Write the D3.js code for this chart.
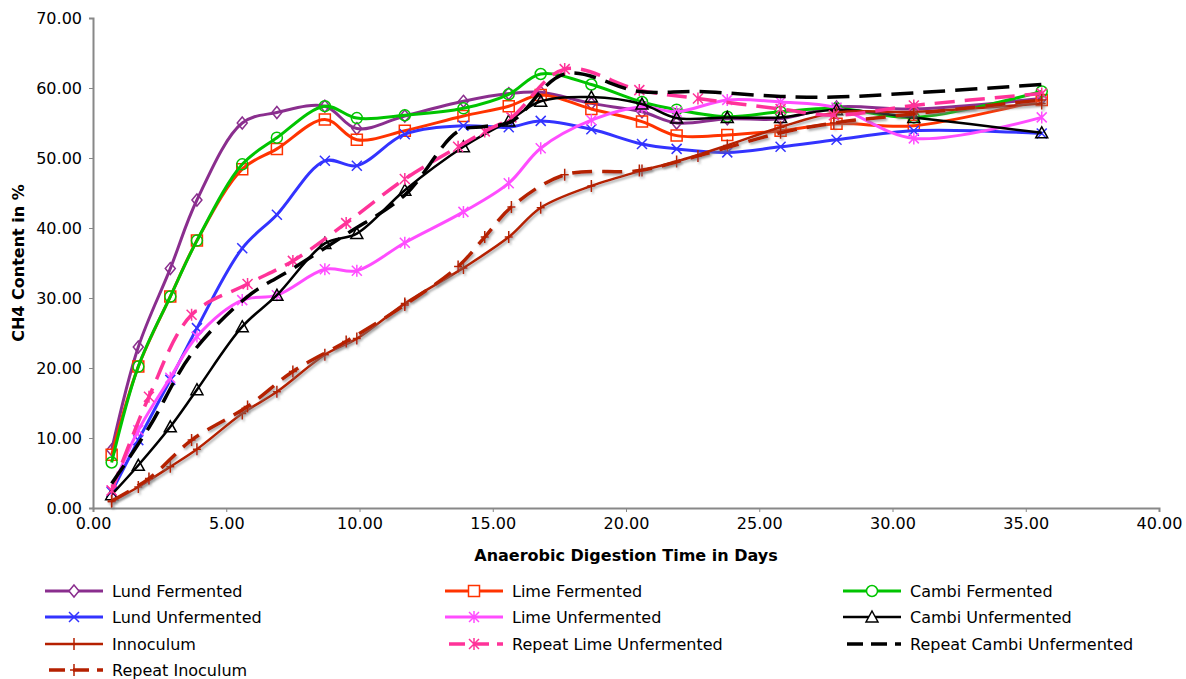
<!DOCTYPE html>
<html>
<head>
<meta charset="utf-8">
<script src="https://cdn.jsdelivr.net/npm/d3@7"></script>
<style>
  body { margin: 0; background: #fff; }
  text { font-family: "DejaVu Sans", Verdana, sans-serif; }
</style>
</head>
<body>
<div id="chart"></div>
<script>
// sampling days (shared by the first runs) and the repeat runs
const days = [0.7, 1.7, 2.9, 3.9, 5.6, 6.9, 8.7, 9.9, 11.7, 13.9, 15.6, 16.8, 18.7, 20.6, 21.9, 23.8, 25.8, 27.9, 30.8, 35.6];
const repeatDays = [0.7, 2.1, 3.7, 5.8, 7.5, 9.5, 11.7, 13.7, 14.7, 15.7, 17.7, 20.5, 22.7, 25.8, 27.8, 30.8, 35.6];

const lundFermented    = [8.3, 23.0, 34.2, 44.0, 55.0, 56.5, 57.4, 54.2, 56.0, 58.1, 59.2, 59.4, 57.8, 56.6, 55.0, 55.6, 55.6, 57.3, 57.0, 58.5];
const limeFermented    = [7.6, 20.2, 30.2, 38.2, 48.4, 51.3, 55.5, 52.6, 53.9, 56.0, 57.4, 59.0, 57.0, 55.2, 53.2, 53.3, 53.9, 54.9, 54.6, 58.3];
const cambiFermented   = [6.5, 20.2, 30.2, 38.2, 49.1, 52.9, 57.4, 55.7, 56.1, 57.1, 59.1, 62.0, 60.5, 58.0, 56.9, 55.9, 56.6, 57.1, 55.8, 59.5];
const lundUnfermented  = [2.3, 9.7, 18.3, 25.7, 37.1, 41.9, 49.6, 48.9, 53.4, 54.6, 54.4, 55.3, 54.1, 52.0, 51.3, 50.8, 51.6, 52.6, 53.9, 53.5];
const limeUnfermented  = [2.5, 11.1, 18.6, 24.5, 29.7, 30.4, 34.1, 33.9, 37.9, 42.3, 46.4, 51.4, 55.4, 57.3, 56.6, 58.3, 58.0, 57.2, 52.8, 55.8];
const cambiUnfermented = [1.9, 6.1, 11.6, 16.9, 25.9, 30.4, 37.8, 39.2, 45.4, 51.6, 55.3, 58.1, 58.7, 57.7, 55.7, 55.8, 55.8, 56.9, 55.8, 53.6];
const innoculum        = [0.9, 3.0, 5.9, 8.4, 13.5, 16.6, 21.9, 24.2, 29.2, 34.3, 38.7, 42.9, 46.0, 48.2, 49.5, 51.8, 54.4, 56.5, 56.6, 57.8];
const repeatLime       = [2.5, 15.9, 27.6, 32.0, 35.3, 40.7, 47.0, 51.6, 53.8, 55.8, 62.7, 59.7, 58.5, 57.0, 56.1, 57.5, 59.2];
const repeatCambi      = [3.5, 11.5, 22.0, 30.2, 34.2, 39.1, 44.7, 53.8, 54.5, 55.2, 62.0, 59.5, 59.5, 58.8, 58.7, 59.3, 60.5];
const repeatInoculum   = [1.0, 4.2, 9.7, 14.5, 19.5, 23.8, 29.0, 34.5, 38.7, 43.0, 47.6, 48.2, 50.3, 53.6, 55.0, 56.3, 58.3];

const xTicks = [0, 5, 10, 15, 20, 25, 30, 35, 40];
const yTicks = [0, 10, 20, 30, 40, 50, 60, 70];

let series = [
    {name: "Lund Fermented", x: days, y: lundFermented, color: "#8A2E8E", marker: "diamond", dash: null, w: 3},
    {name: "Lime Fermented", x: days, y: limeFermented, color: "#FF3300", marker: "square", dash: null, w: 3},
    {name: "Cambi Fermented", x: days, y: cambiFermented, color: "#00C400", marker: "circle", dash: null, w: 3},
    {name: "Lund Unfermented", x: days, y: lundUnfermented, color: "#3333FF", marker: "x", dash: null, w: 3},
    {name: "Lime Unfermented", x: days, y: limeUnfermented, color: "#FF4DFF", marker: "star", dash: null, w: 3},
    {name: "Cambi Unfermented", x: days, y: cambiUnfermented, color: "#000000", marker: "triangle", dash: null, w: 2.5},
    {name: "Innoculum", x: days, y: innoculum, color: "#B52000", marker: "plus", dash: null, w: 2.5, shadow: true},
    {name: "Repeat Lime Unfermented", x: repeatDays, y: repeatLime, color: "#FF3399", marker: "star", dash: "20,10", w: 3.5},
    {name: "Repeat Cambi Unfermented", x: repeatDays, y: repeatCambi, color: "#000000", marker: null, dash: "22,10", w: 3.5},
    {name: "Repeat Inoculum", x: repeatDays, y: repeatInoculum, color: "#B52000", marker: "plus", dash: "20,10", w: 3.5, shadow: true},
];

let config_size = {
    svg_width: 1186,
    svg_height: 679,
    plot: {left: 93, right: 1159, top: 18, bottom: 508},
};

function markerPath(type) {
    switch (type) {
        case "diamond": return "M0,-6L5,0L0,6L-5,0Z";
        case "square": return "M-5.5,-5.5H5.5V5.5H-5.5Z";
        case "circle": return "M5.5,0A5.5,5.5 0 1,1 -5.5,0A5.5,5.5 0 1,1 5.5,0Z";
        case "triangle": return "M0,-6L6,5H-6Z";
        case "x": return "M-5,-5L5,5M-5,5L5,-5";
        case "star": return "M-5,-5L5,5M-5,5L5,-5M0,-6V6";
        case "plus": return "M0,-6V6M-4,0H4";
    }
    return "";
}

let svg = d3.select("#chart").append("svg")
    .attr("width", config_size.svg_width).attr("height", config_size.svg_height);

let defs = svg.append("defs");
let f = defs.append("filter").attr("id", "shadow").attr("x", "-10%").attr("y", "-10%").attr("width", "130%").attr("height", "130%");
f.append("feDropShadow").attr("dx", 1.5).attr("dy", 2).attr("stdDeviation", 1)
    .attr("flood-color", "#777").attr("flood-opacity", 0.6);

let x = d3.scaleLinear().domain([0, 40]).range([config_size.plot.left, config_size.plot.right]);
let y = d3.scaleLinear().domain([0, 70]).range([config_size.plot.bottom, config_size.plot.top]);

// axes
let xAxis = svg.append("g")
    .attr("transform", `translate(0,${config_size.plot.bottom})`)
    .call(d3.axisBottom(x).tickValues(xTicks).tickFormat(d3.format(".2f")).tickSize(4).tickPadding(6));
let yAxis = svg.append("g")
    .attr("transform", `translate(${config_size.plot.left},0)`)
    .call(d3.axisLeft(y).tickValues(yTicks).tickFormat(d3.format(".2f")).tickSize(4).tickPadding(7));
[xAxis, yAxis].forEach(a => {
    a.select(".domain").attr("stroke", "#888").attr("stroke-width", 2);
    a.selectAll(".tick line").attr("stroke", "#888");
    a.selectAll(".tick text").attr("fill", "#000").style("font-size", "16px")
        .style("font-family", "'DejaVu Sans', Verdana, sans-serif");
});

svg.append("text")
    .attr("x", (config_size.plot.left + config_size.plot.right) / 2).attr("y", 561)
    .attr("text-anchor", "middle").style("font-size", "16px").style("font-weight", "bold")
    .text("Anaerobic Digestion Time in Days");
svg.append("text")
    .attr("transform", `translate(24,${(config_size.plot.top + config_size.plot.bottom) / 2}) rotate(-90)`)
    .attr("text-anchor", "middle").style("font-size", "16px").style("font-weight", "bold")
    .text("CH4 Content in %");

let line = d3.line().curve(d3.curveCatmullRom.alpha(0.5));

let lines_g = svg.append("g");
series.forEach(s => {
    let pts = s.x.map((d, i) => [x(d), y(s.y[i])]);
    let g = lines_g.append("g");
    if (s.shadow) g.attr("filter", "url(#shadow)");
    g.append("path")
        .attr("d", line(pts))
        .attr("fill", "none")
        .attr("stroke", s.color)
        .attr("stroke-width", s.w)
        .attr("stroke-dasharray", s.dash)
        .attr("stroke-linejoin", "round");
    if (s.marker) {
        g.selectAll("path.m").data(pts).enter().append("path").classed("m", true)
            .attr("transform", d => `translate(${d[0]},${d[1]})`)
            .attr("d", markerPath(s.marker))
            .attr("fill", "none")
            .attr("stroke", s.color)
            .attr("stroke-width", 1.5);
    }
});

// legend
let legend_cols = [45, 445, 843];
let legend_rows = [591, 617, 644, 670];
series.forEach((s, i) => {
    let lx = legend_cols[i % 3], ly = legend_rows[Math.floor(i / 3)];
    let g = svg.append("g").attr("transform", `translate(${lx},${ly})`);
    g.append("line").attr("x1", 0).attr("x2", 58).attr("y1", 0).attr("y2", 0)
        .attr("stroke", s.color).attr("stroke-width", s.w)
        .attr("stroke-dasharray", s.dash ? "16,8" : null)
        .attr("stroke-dashoffset", s.dash ? -4 : null);
    if (s.marker) {
        g.append("path").attr("transform", "translate(29,0)")
            .attr("d", markerPath(s.marker)).attr("fill", "#fff")
            .attr("stroke", s.color).attr("stroke-width", 1.5);
    }
    g.append("text").attr("x", 67).attr("y", 0).attr("dy", "0.36em")
        .style("font-size", "16px").text(s.name);
});
</script>
</body>
</html>
